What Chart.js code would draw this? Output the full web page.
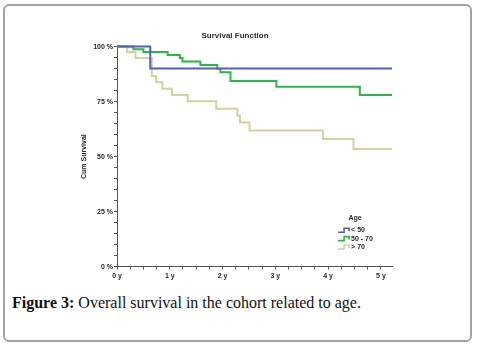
<!DOCTYPE html>
<html>
<head>
<meta charset="utf-8">
<script src="https://cdn.jsdelivr.net/npm/chart.js@4.4.1/dist/chart.umd.min.js"></script>
<style>
    html, body { margin: 0; padding: 0; background: #fff; }
    body { width: 479px; height: 346px; position: relative; overflow: hidden; }
    #frame {
        position: absolute; left: 3px; top: 4px; width: 465px; height: 334px;
        border: 2px solid #a3a3a3; border-radius: 6px;
    }
    #chartBox { position: absolute; left: 0; top: 0; width: 479px; height: 290px; }
    #caption {
        position: absolute; left: 12px; top: 294px;
        font-family: "Liberation Serif", "DejaVu Serif", serif; font-size: 16px; color: #111;
        white-space: nowrap;
    }
</style>
</head>
<body>
<div id="frame"></div>
<div id="chartBox"><canvas id="survivalChart"></canvas></div>
<div id="caption"><b>Figure 3:</b> Overall survival in the cohort related to age.</div>

<script>
// Kaplan-Meier steps (time in years, cumulative survival in %)
const groupLabels = ['< 50', '50 - 70', '> 70'];
const groupColors = ['#4f64b4', '#2eb548', '#d6d19c'];

const under50Time = [0, 0.63, 5.21];
const under50Surv = [100, 90.1, 90.1];

const mid5070Time = [0, 0.31, 0.50, 0.96, 1.19, 1.24, 1.58, 1.90, 1.96, 2.15, 3.02, 4.60, 5.21];
const mid5070Surv = [100, 98.8, 97.5, 96.2, 94.8, 93.2, 91.6, 89.9, 88.3, 84.4, 81.8, 78.0, 78.0];

const over70Time = [0, 0.19, 0.35, 0.66, 0.74, 0.86, 1.04, 1.34, 1.88, 2.28, 2.33, 2.51, 3.90, 4.48, 5.21];
const over70Surv = [100, 97.5, 94.8, 86.6, 83.8, 80.8, 78.0, 75.2, 71.7, 68.6, 65.5, 61.9, 58.0, 53.4, 53.4];

const xMax = 5.21;
const xTickStep = 0.25;
const yTickStep = 5;

function toPoints(times, surv) {
    return times.map((t, i) => ({ x: t, y: surv[i] }));
}

const seriesPoints = [
    toPoints(under50Time, under50Surv),
    toPoints(mid5070Time, mid5070Surv),
    toPoints(over70Time, over70Surv)
];

const axisColor = '#555';
const textColor = '#2a2a2a';
const smallBold = { family: '"Liberation Sans", Arial, sans-serif', size: 7, weight: 'bold' };

// Legend drawn inside the plot, step-shaped swatches like the SPSS output
const stepLegend = {
    id: 'stepLegend',
    afterDraw(chart) {
        const ctx = chart.ctx;
        const area = chart.chartArea;
        const left = area.left + (area.right - area.left) * 0.804;
        const top = area.top + (area.bottom - area.top) * 0.78;
        ctx.save();
        ctx.fillStyle = textColor;
        ctx.font = 'bold 7px "Liberation Sans", Arial, sans-serif';
        ctx.textBaseline = 'middle';
        ctx.textAlign = 'center';
        ctx.fillText('Age', left + 17, top);
        ctx.textAlign = 'left';
        chart.data.datasets.forEach((ds, i) => {
            const y = top + 12 + i * 8.4;
            const x0 = left;
            ctx.strokeStyle = ds.borderColor;
            ctx.lineWidth = 1.6;
            ctx.beginPath();
            ctx.moveTo(x0, y + 2);
            ctx.lineTo(x0 + 6, y + 2);
            ctx.lineTo(x0 + 6, y - 2);
            ctx.lineTo(x0 + 11, y - 2);
            ctx.lineTo(x0 + 11, y + 1);
            ctx.stroke();
            ctx.fillStyle = textColor;
            ctx.fillText(ds.label, x0 + 13, y);
        });
        ctx.restore();
    }
};

const chartData = {
    datasets: seriesPoints.map((pts, i) => ({
        label: groupLabels[i],
        data: pts,
        borderColor: groupColors[i],
        borderWidth: 2,
        stepped: true,
        pointRadius: 0,
        fill: false,
        clip: 4
    }))
};

const chartConfig = {
    type: 'line',
    data: chartData,
    options: {
        responsive: true,
        maintainAspectRatio: false,
        animation: false,
        layout: { padding: { top: 31, left: 78, right: 87, bottom: 8 } },
        scales: {
            x: {
                type: 'linear',
                min: 0,
                max: xMax,
                border: { display: true, color: axisColor, width: 1 },
                grid: { drawOnChartArea: false, drawTicks: true, tickLength: 3, color: axisColor },
                ticks: {
                    stepSize: xTickStep,
                    includeBounds: false,
                    autoSkip: false,
                    maxRotation: 0,
                    padding: 2,
                    color: textColor,
                    font: smallBold,
                    callback: v => (Math.abs(v - Math.round(v)) < 1e-6 ? Math.round(v) + ' y' : '')
                }
            },
            y: {
                min: 0,
                max: 100,
                afterFit: scale => { scale.width = 39; },
                border: { display: true, color: axisColor, width: 1 },
                grid: { drawOnChartArea: false, drawTicks: true, tickLength: 3, color: axisColor },
                ticks: {
                    stepSize: yTickStep,
                    autoSkip: false,
                    padding: 1,
                    color: textColor,
                    font: smallBold,
                    callback: v => (v % 25 === 0 ? v + ' %' : '')
                },
                title: {
                    display: true,
                    text: 'Cum Survival',
                    color: textColor,
                    font: smallBold,
                    padding: { top: 2, bottom: 0 }
                }
            }
        },
        plugins: {
            legend: { display: false },
            tooltip: { enabled: false },
            title: {
                display: true,
                text: 'Survival Function',
                color: textColor,
                font: { family: '"Liberation Sans", Arial, sans-serif', size: 8, weight: 'bold' },
                padding: { top: 0, bottom: 6 }
            }
        }
    },
    plugins: [stepLegend]
};

const survivalChart = new Chart(document.getElementById('survivalChart').getContext('2d'), chartConfig);
</script>
</body>
</html>
